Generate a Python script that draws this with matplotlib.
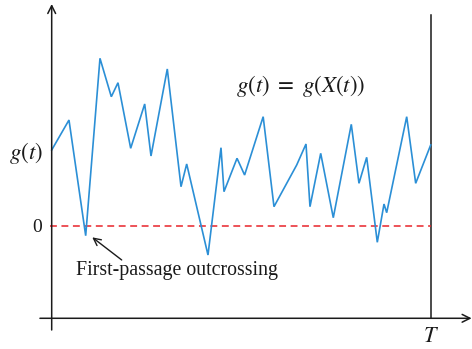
import matplotlib
matplotlib.use("Agg")
import matplotlib.pyplot as plt

plt.rcParams["mathtext.fontset"] = "stix"

# Sampled path of the performance function g(t) over [0, T]
t_vals = [0.0, 0.0456, 0.0897, 0.1274, 0.1573, 0.1749, 0.2084, 0.2454, 0.262,
          0.305, 0.3412, 0.3562, 0.4124, 0.4467, 0.4546, 0.489, 0.509, 0.558,
          0.5865, 0.6464, 0.671, 0.6815, 0.7098, 0.743, 0.7905, 0.8108, 0.8311,
          0.8591, 0.8768, 0.8839, 0.9367, 0.9604, 1.0]
g_vals = [1.027, 1.432, -0.131, 2.266, 1.747, 1.936, 1.05, 1.649, 0.946,
          2.122, 0.531, 0.838, -0.392, 1.058, 0.464, 0.915, 0.689, 1.477,
          0.261, 0.824, 1.108, 0.261, 0.982, 0.112, 1.374, 0.577, 0.928,
          -0.220, 0.297, 0.180, 1.477, 0.577, 1.095]
T_end = 1.0
threshold = 0.0
g_ref = 0.905  # baseline of the g(t) label on the vertical axis

serif = ["Liberation Serif", "DejaVu Serif"]

fig = plt.figure(figsize=(4.72, 3.49), dpi=100)
ax = fig.add_axes([0, 0, 1, 1])
ax.set_xlim(-0.1364, 1.109)
ax.set_ylim(-1.662, 3.054)
ax.axis("off")

blue = "#2b8fd6"
red = "#e8232a"
black = "#1a1a1a"

# time-axis and g-axis with open arrow heads
ax.annotate("", xy=(1.108, -1.247), xytext=(-0.031, -1.247),
            arrowprops=dict(arrowstyle="->", color=black, lw=1.1,
                            shrinkA=0, shrinkB=0, mutation_scale=14))
ax.annotate("", xy=(0.0, 3.0), xytext=(0.0, -1.405),
            arrowprops=dict(arrowstyle="->", color=black, lw=1.1,
                            shrinkA=0, shrinkB=0, mutation_scale=14))

# end of the time interval
ax.plot([T_end, T_end], [-1.247, 2.85], color=black, lw=1.1)

# failure threshold
ax.plot([-0.005, T_end], [threshold, threshold], color=red, lw=1.1,
        dashes=(4.5, 3))

# sample path
ax.plot(t_vals, g_vals, color=blue, lw=1.2, solid_joinstyle="miter")

# labels
ax.text(-0.069, g_ref, r"$g(t)$", fontsize=16.5,
        ha="center", va="baseline", color=black)
ax.text(-0.0375, -0.081, "0", fontsize=14, family=serif,
        ha="center", va="baseline", color=black)
ax.text(T_end, -1.568, r"$T$", fontsize=16,
        ha="center", va="baseline", color=black)
ax.text(0.657, 1.815, r"$g(t)\ =\ g(X(t))$", fontsize=16.5,
        ha="center", va="baseline", color=black)
ax.text(0.331, -0.662, "First-passage outcrossing", fontsize=14.3,
        family=serif, ha="center", va="baseline", color=black)
ax.annotate("", xy=(0.107, -0.153), xytext=(0.1847, -0.459),
            arrowprops=dict(arrowstyle="->", color=black, lw=1.0,
                            shrinkA=0, shrinkB=0, mutation_scale=13))

fig.savefig("out.png", dpi=100)
